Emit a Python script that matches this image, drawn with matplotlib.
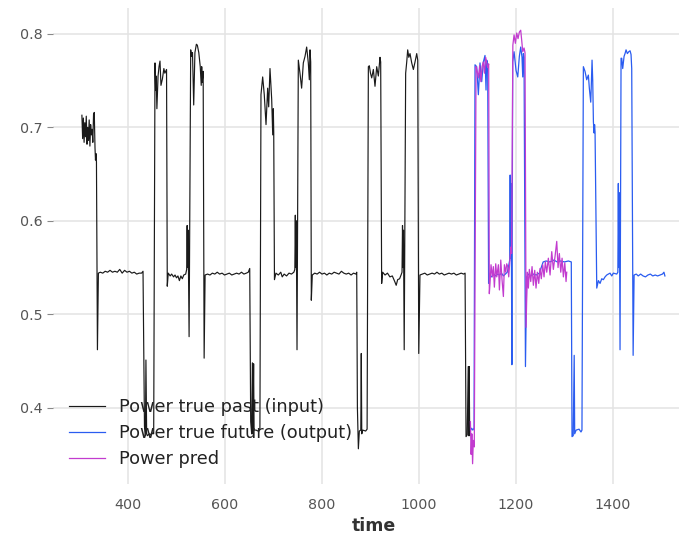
import matplotlib
matplotlib.use("Agg")
import matplotlib.pyplot as plt

# ---------------- data ----------------
past_t = [305, 306.5, 308, 309.5, 311, 312.5, 314, 315.5, 317, 318.5, 320, 321.5, 323, 324.5, 326, 327.5, 329, 330.5, 332, 333, 334, 335, 337, 339,
          343, 348, 353, 358, 363, 368, 373, 378, 383, 388, 393, 398, 403, 408, 413, 418, 423, 428, 431,
          434, 436, 437, 438.5, 440, 444, 448, 451, 453,
          455.7, 457, 458, 459.6, 462, 464, 466, 468, 471, 474, 476, 479.5,
          481, 483, 487, 490, 494, 497, 500, 503, 506, 509, 512, 515, 519, 521, 522, 523, 524, 526,
          529.3, 531, 533, 535.5, 538, 541, 543, 546, 549, 551, 552, 553, 555,
          557, 559,
          564, 569, 574, 579, 584, 589, 594, 599, 604, 609, 614, 619, 624, 629, 634, 639, 644, 648, 651,
          653, 655, 656.5, 657.5, 659, 660, 664, 668, 672,
          674.2, 677.7, 681, 684.6, 688, 690.1, 692.8, 696.3, 698.4, 699.6, 700.5,
          702, 705, 710, 715, 718, 722, 727, 732, 737, 742, 744, 745, 746, 747, 748.5,
          751.2, 754.6, 758, 761.5, 765, 768.4, 771.8, 773.9, 775.3, 776.7,
          778, 780,
          785, 790, 795, 800, 805, 810, 815, 820, 825, 830, 835, 840, 845, 850, 855, 860, 865, 870, 871.6,
          873, 875, 877, 880, 881, 882, 884, 890, 893,
          895.6, 897.6, 900, 902.5, 905.9, 909.3, 912.8, 916.2, 919.6, 921,
          923, 925, 930, 935, 940, 945, 950, 953, 956, 960, 963, 965, 966, 967, 968, 969.5,
          972.5, 974.7, 976.7, 979, 981.5, 985, 988.4, 991.8, 995.3, 997.4,
          999.5, 1002,
          1007, 1012, 1017, 1022, 1027, 1032, 1037, 1042, 1047, 1052, 1057, 1062, 1067, 1072, 1077, 1082, 1087, 1092, 1095,
          1097, 1099.5, 1101.5, 1102.5, 1103.5, 1104.5, 1105.5]
past_v = [0.713, 0.688, 0.710, 0.684, 0.705, 0.690, 0.712, 0.682, 0.700, 0.686, 0.708, 0.680, 0.703, 0.692, 0.698, 0.684, 0.714, 0.716, 0.678, 0.665, 0.672, 0.663, 0.462, 0.544,
          0.545, 0.544, 0.546, 0.545, 0.547, 0.545, 0.546, 0.545, 0.548, 0.544, 0.547, 0.545, 0.546, 0.544, 0.545, 0.543, 0.544, 0.544, 0.546,
          0.380, 0.370, 0.451, 0.372, 0.370, 0.372, 0.371, 0.373, 0.372,
          0.769, 0.740, 0.755, 0.720, 0.755, 0.765, 0.771, 0.745, 0.752, 0.763, 0.758, 0.762,
          0.530, 0.544, 0.541, 0.543, 0.540, 0.542, 0.539, 0.541, 0.536, 0.541, 0.538, 0.542, 0.543, 0.548, 0.595, 0.550, 0.590, 0.476,
          0.783, 0.776, 0.780, 0.724, 0.780, 0.789, 0.788, 0.780, 0.765, 0.745, 0.765, 0.748, 0.760,
          0.453, 0.542,
          0.543, 0.542, 0.544, 0.543, 0.545, 0.543, 0.544, 0.542, 0.543, 0.544, 0.542, 0.543, 0.544, 0.543, 0.545, 0.543, 0.544, 0.545, 0.549,
          0.385, 0.372, 0.448, 0.372, 0.447, 0.376, 0.376, 0.375, 0.377,
          0.735, 0.754, 0.735, 0.703, 0.742, 0.722, 0.763, 0.730, 0.692, 0.720, 0.695,
          0.537, 0.544, 0.542, 0.545, 0.540, 0.543, 0.541, 0.544, 0.543, 0.545, 0.548, 0.606, 0.550, 0.600, 0.462,
          0.772, 0.758, 0.742, 0.769, 0.776, 0.786, 0.769, 0.751, 0.783, 0.770,
          0.515, 0.542,
          0.544, 0.543, 0.545, 0.543, 0.544, 0.542, 0.544, 0.543, 0.545, 0.544, 0.543, 0.546, 0.544, 0.543, 0.544, 0.542, 0.544, 0.543, 0.545,
          0.400, 0.356, 0.375, 0.376, 0.458, 0.372, 0.376, 0.375, 0.377,
          0.765, 0.766, 0.758, 0.753, 0.762, 0.744, 0.765, 0.755, 0.775, 0.770,
          0.533, 0.545, 0.542, 0.544, 0.540, 0.541, 0.535, 0.531, 0.537, 0.538, 0.542, 0.545, 0.595, 0.550, 0.590, 0.462,
          0.758, 0.770, 0.783, 0.775, 0.779, 0.769, 0.762, 0.770, 0.779, 0.772,
          0.458, 0.542,
          0.543, 0.544, 0.542, 0.543, 0.544, 0.543, 0.545, 0.543, 0.544, 0.542, 0.543, 0.544, 0.543, 0.544, 0.542, 0.543, 0.544, 0.543, 0.544,
          0.369, 0.371, 0.444, 0.370, 0.444, 0.370, 0.376]

future_t = [1106.5, 1108.5, 1111, 1113.5,
            1115.5, 1119, 1122.4, 1125.8, 1129.3, 1132.7, 1136.1, 1138.2, 1139.6, 1141.6,
            1143.5, 1146, 1150, 1154, 1158, 1162, 1166, 1170, 1174, 1178, 1182, 1185, 1187, 1188, 1189, 1190, 1191.5,
            1193.2, 1196, 1200.1, 1203.6, 1206.9, 1209.7, 1212.4, 1213.9, 1215.2, 1216.6,
            1219.5, 1222, 1226, 1230, 1236, 1242, 1248, 1252, 1256, 1262, 1270, 1278, 1285, 1292, 1300, 1308, 1314,
            1315.5, 1318, 1320, 1321, 1324, 1330, 1334, 1336,
            1338.9, 1342.3, 1345.8, 1349.2, 1351.2, 1354.1, 1355.5, 1356.8, 1358.2, 1359.6, 1361, 1362, 1363,
            1366.5, 1369.9, 1373.3, 1376.8, 1380.1, 1383.6, 1387.1, 1390.4, 1393.9, 1397.4, 1400.7, 1407.7, 1410, 1411, 1412, 1413, 1414.5,
            1416.6, 1418, 1420, 1422.8, 1424.8, 1426.9, 1429.6, 1432.5, 1435.2, 1437.2, 1438.6,
            1441.5, 1443.5, 1448, 1452, 1457, 1462, 1467, 1472, 1477, 1482, 1487, 1492, 1497, 1502, 1505, 1507]
future_v = [0.376, 0.378, 0.376, 0.378,
            0.767, 0.765, 0.735, 0.769, 0.749, 0.770, 0.777, 0.740, 0.772, 0.768,
            0.533, 0.542, 0.540, 0.543, 0.541, 0.543, 0.542, 0.544, 0.541, 0.543, 0.545, 0.552, 0.558, 0.649, 0.560, 0.640, 0.446,
            0.770, 0.781, 0.761, 0.754, 0.776, 0.786, 0.775, 0.754, 0.779, 0.775,
            0.444, 0.540, 0.543, 0.541, 0.543, 0.542, 0.544, 0.550, 0.556, 0.557, 0.556, 0.558, 0.556, 0.557, 0.556, 0.557, 0.556,
            0.369, 0.370, 0.456, 0.372, 0.376, 0.377, 0.374, 0.376,
            0.765, 0.760, 0.751, 0.756, 0.742, 0.727, 0.749, 0.772, 0.750, 0.706, 0.694, 0.703, 0.695,
            0.528, 0.536, 0.533, 0.538, 0.537, 0.540, 0.542, 0.543, 0.544, 0.541, 0.544, 0.543, 0.545, 0.640, 0.550, 0.630, 0.462,
            0.774, 0.774, 0.763, 0.776, 0.779, 0.783, 0.779, 0.781, 0.782, 0.778, 0.763,
            0.456, 0.542, 0.543, 0.541, 0.543, 0.541, 0.540, 0.542, 0.543, 0.541, 0.542, 0.541, 0.542, 0.543, 0.545, 0.541]

pred_t = [1106, 1107.5, 1109, 1110.5, 1112, 1114,
          1117.6, 1120, 1122.5, 1125, 1127.5, 1130, 1132.5, 1135, 1137.5, 1141.5, 1143.7,
          1145, 1146.4, 1148.5, 1151.2, 1153.3, 1155.4, 1158.2, 1160.3, 1163.7, 1165.8, 1168.6, 1171.2, 1174, 1176.1, 1178.8, 1180.9, 1183, 1185, 1187.7, 1189.5, 1191,
          1193.5, 1196, 1198.7, 1201.5, 1204.2, 1206.9, 1209.7, 1211.8, 1213.9, 1216.6, 1218.6,
          1220.7, 1223.4, 1225.5, 1227.5, 1230.4, 1233.1, 1235.8, 1238.6, 1241.3, 1244, 1246.9, 1249.5, 1252.2, 1255.1, 1257.8, 1260.5, 1263.4,
          1266.7, 1270.2, 1273.7, 1277, 1280.5, 1284, 1286.7, 1289.4, 1292.3, 1295, 1297.7, 1300.6, 1303.2, 1304.6]
pred_v = [0.385, 0.350, 0.372, 0.340, 0.365, 0.358,
          0.765, 0.760, 0.753, 0.766, 0.749, 0.765, 0.770, 0.758, 0.775, 0.764, 0.768,
          0.522, 0.533, 0.553, 0.540, 0.551, 0.529, 0.554, 0.540, 0.553, 0.526, 0.558, 0.537, 0.519, 0.553, 0.545, 0.554, 0.551, 0.540, 0.560, 0.572, 0.565,
          0.788, 0.799, 0.790, 0.801, 0.795, 0.802, 0.804, 0.793, 0.781, 0.785, 0.780,
          0.486, 0.545, 0.528, 0.548, 0.535, 0.551, 0.531, 0.547, 0.528, 0.545, 0.533, 0.549, 0.538, 0.553, 0.540, 0.556, 0.545,
          0.560, 0.542, 0.567, 0.548, 0.562, 0.578, 0.550, 0.565, 0.545, 0.560, 0.540, 0.555, 0.535, 0.545]

labels = ["Power true past (input)", "Power true future (output)", "Power pred"]
x_ticks = [400, 600, 800, 1000, 1200, 1400]
y_ticks = [0.4, 0.5, 0.6, 0.7, 0.8]

# ---------------- figure ----------------
W, H = 679, 536
fig = plt.figure(figsize=(W / 100, H / 100), dpi=100)
ax = fig.add_axes([53 / W, (H - 484) / H, (694 - 53) / W, (484 - 8) / H])

ax.plot(past_t, past_v, color="#1a1a1a", lw=0.85, label=labels[0])
ax.plot(future_t, future_v, color="#2a5cf0", lw=0.9, label=labels[1])
ax.plot(pred_t, pred_v, color="#c23ccf", lw=0.9, label=labels[2])

ax.set_xlim(245.4, 1567)
ax.set_ylim(0.3183, 0.8278)
ax.set_xticks(x_ticks)
ax.set_yticks(y_ticks)
ax.set_yticklabels(["0.4", "0.5", "0.6", "0.7", "0.8"])

for s in ax.spines.values():
    s.set_visible(False)
ax.grid(True, color="#e3e3e3", lw=1.1)
ax.set_axisbelow(True)
ax.tick_params(axis="x", length=0, pad=10, labelsize=10.3, labelcolor="#555555")
ax.tick_params(axis="y", length=4.5, width=0.8, color="#888888", pad=3, labelsize=10.3, labelcolor="#555555")

ax.set_xlabel("time", fontsize=12.5, fontweight="bold", color="#333333", labelpad=4)

leg = ax.legend(loc="lower left", frameon=False, fontsize=12.8, labelspacing=0.44,
                handlelength=2.0, handletextpad=0.8, borderaxespad=0.5)
for t in leg.get_texts():
    t.set_color("#222222")

fig.savefig("out.png", dpi=100)
